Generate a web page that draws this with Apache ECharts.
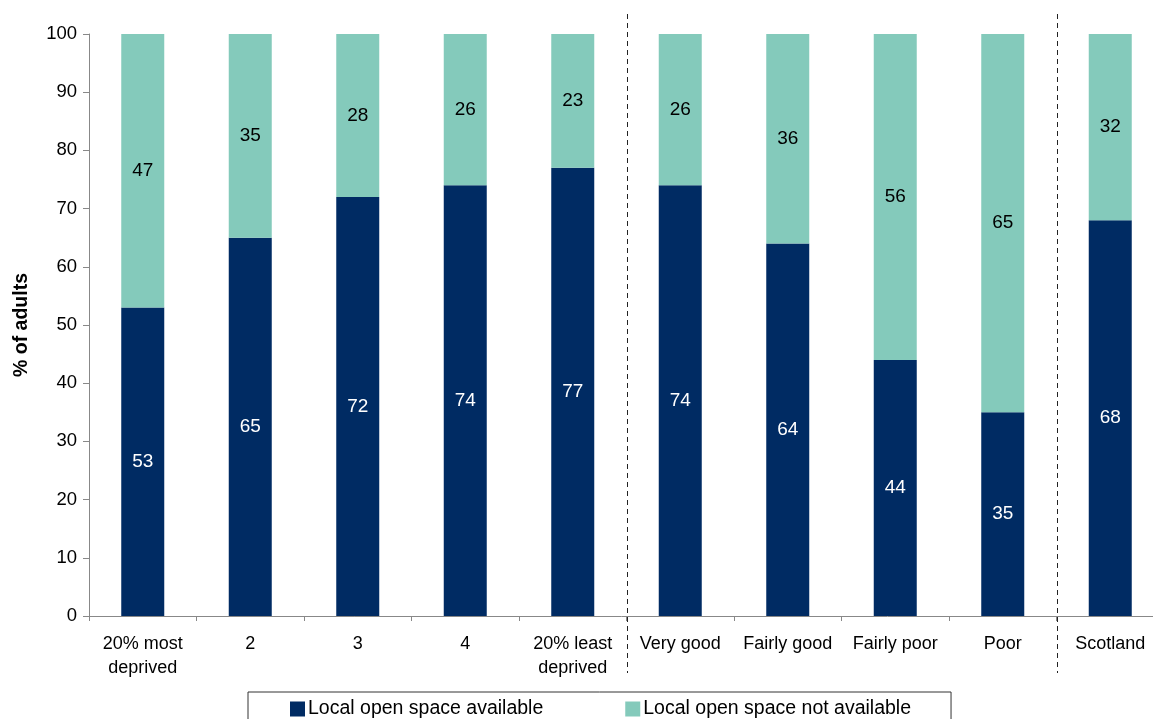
<!DOCTYPE html>
<html>
<head>
<meta charset="utf-8">
<style>
  html, body { margin: 0; padding: 0; background: #fff; }
  #chart { width: 1153px; height: 719px; }
</style>
<script src="https://cdn.jsdelivr.net/npm/echarts@6/dist/echarts.min.js"></script>
</head>
<body>
<div id="chart"></div>
<script>
// Categories: deprivation quintiles, neighbourhood rating, and national total
const categories = [
  '20% most\ndeprived', '2', '3', '4', '20% least\ndeprived',
  'Very good', 'Fairly good', 'Fairly poor', 'Poor', 'Scotland'
];
const available = [53, 65, 72, 74, 77, 74, 64, 44, 35, 68];
const notAvailable = [47, 35, 28, 26, 23, 26, 36, 56, 65, 32];
const yTicks = [0, 10, 20, 30, 40, 50, 60, 70, 80, 90, 100];
// Group separators sit after these category counts
const separators = [5, 9];

const FONT = 'Liberation Sans, Arial, sans-serif';
const chart = echarts.init(document.getElementById('chart'));

const option = {
  animation: false,
  textStyle: { fontFamily: FONT },
  grid: {
    left: 89, width: 1075, top: 34, height: 582,
    containLabel: false, outerBoundsMode: 'none'
  },
  legend: {
    left: 248, top: 692,
    padding: [7, 40, 20, 42],
    borderColor: '#333', borderWidth: 1,
    itemWidth: 15, itemHeight: 15, itemGap: 82,
    icon: 'rect',
    textStyle: { fontFamily: FONT, fontSize: 19.5, color: '#000', padding: [0, 0, 0, -2] },
    data: ['Local open space available', 'Local open space not available']
  },
  xAxis: {
    type: 'category',
    data: categories,
    axisLine: { lineStyle: { color: '#888', width: 1 } },
    axisTick: { show: true, length: 5, interval: 0, lineStyle: { color: '#888' } },
    axisLabel: {
      interval: 0, margin: 16, color: '#000', fontSize: 18, fontFamily: FONT,
      lineHeight: 24
    }
  },
  yAxis: {
    type: 'value',
    min: yTicks[0], max: yTicks[yTicks.length - 1], interval: 10,
    name: '% of adults',
    nameLocation: 'middle', nameGap: 57, nameRotate: 90,
    nameTextStyle: { fontFamily: FONT, fontSize: 19.5, fontWeight: 'bold', color: '#000' },
    axisLine: { show: true, lineStyle: { color: '#888', width: 1 } },
    axisTick: { show: true, length: 6, inside: false, lineStyle: { color: '#888' } },
    splitLine: { show: false },
    axisLabel: { color: '#000', fontSize: 18.5, fontFamily: FONT, margin: 12 }
  },
  series: [
    {
      name: 'Local open space available',
      type: 'bar', stack: 'total', barWidth: '40%',
      data: available,
      itemStyle: { color: '#002B63' },
      label: { show: true, position: 'inside', color: '#fff', fontSize: 19, fontFamily: FONT }
    },
    {
      name: 'Local open space not available',
      type: 'bar', stack: 'total', barWidth: '40%',
      data: notAvailable,
      itemStyle: { color: '#84CABB' },
      label: { show: true, position: 'inside', color: '#000', fontSize: 19, fontFamily: FONT }
    }
  ]
};

chart.setOption(option);

// Dashed group dividers placed on category boundaries
function drawSeparators() {
  const c0 = chart.convertToPixel({ xAxisIndex: 0 }, 0);
  const c1 = chart.convertToPixel({ xAxisIndex: 0 }, 1);
  const step = c1 - c0;
  const yTop = chart.convertToPixel({ yAxisIndex: 0 }, 100) - 20;
  const yBot = chart.convertToPixel({ yAxisIndex: 0 }, 0) + 57;
  const elements = separators.map((s, i) => {
    const x = Math.round(c0 - step / 2 + s * step) + 0.5;
    return {
      type: 'line', id: 'sep' + i, silent: true, z: 10,
      shape: { x1: x, y1: yTop, x2: x, y2: yBot },
      style: { stroke: '#222', lineWidth: 1, lineDash: [5, 4] }
    };
  });
  chart.setOption({ graphic: elements });
}
drawSeparators();
</script>
</body>
</html>
